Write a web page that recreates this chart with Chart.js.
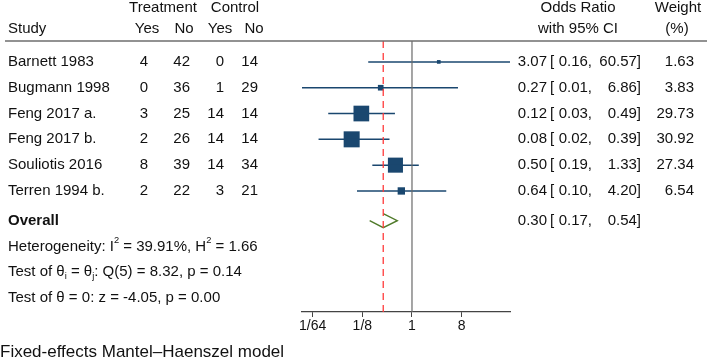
<!DOCTYPE html>
<html><head><meta charset="utf-8">
<script src="https://cdn.jsdelivr.net/npm/chart.js@4.4.0/dist/chart.umd.min.js"></script>
<style>html,body{margin:0;padding:0;background:#fff}#wrap{width:709px;height:360px;position:relative}</style>
</head><body><div id="wrap"><canvas id="c"></canvas></div>
<script>
// ---- data ----
const studies = ['Barnett 1983','Bugmann 1998','Feng 2017 a.','Feng 2017 b.','Souliotis 2016','Terren 1994 b.'];
const treatYes = [4, 0, 3, 2, 8, 2];
const treatNo  = [42, 36, 25, 26, 39, 22];
const ctrlYes  = [0, 1, 14, 14, 14, 3];
const ctrlNo   = [14, 29, 14, 14, 34, 21];
const oddsRatio = [3.07, 0.27, 0.12, 0.08, 0.50, 0.64];
const ciLower   = [0.16, 0.01, 0.03, 0.02, 0.19, 0.10];
const ciUpper   = [60.57, 6.86, 0.49, 0.39, 1.33, 4.20];
const weights   = [1.63, 3.83, 29.73, 30.92, 27.34, 6.54];
const overallOR = 0.30, overallLo = 0.17, overallHi = 0.54;
const tickValues = [1/64, 1/8, 1, 8];
const tickLabels = ['1/64', '1/8', '1', '8'];
const hetI2 = '39.91%', hetH2 = '1.66';
const qStat = '8.32', qDf = 5, qP = '0.14';
const zStat = '-4.05', zP = '0.00';
const footnote = 'Fixed-effects Mantel\u2013Haenszel model';

// ---- layout helpers ----
const FONT = '"Liberation Sans", Arial, Helvetica, sans-serif';
const NAVY = '#1a476f';
const TXT = '#111111';
const overallRow = studies.length + 0.15;
const statRows = [overallRow + 1, overallRow + 2, overallRow + 3];
const yTop = -0.81, yBottom = 9.69;
const dh = 0.27;

Chart.defaults.font.family = FONT;

const datasets = [];
datasets.push({type:'line', data:[{x:1,y:yTop},{x:1,y:yBottom}], borderColor:'#6a6a6a', borderWidth:1.2, pointRadius:0, clip:false});
datasets.push({type:'line', data:[{x:overallOR,y:yTop},{x:overallOR,y:yBottom}], borderColor:'#ff3a3a', borderWidth:1.3, borderDash:[7,5], pointRadius:0, clip:false});
studies.forEach((s,i)=>{
  datasets.push({type:'line', data:[{x:ciLower[i],y:i},{x:ciUpper[i],y:i}], borderColor:NAVY, borderWidth:1.5, pointRadius:0, clip:false});
});
datasets.push({type:'scatter', data:oddsRatio.map((v,i)=>({x:v,y:i})), pointStyle:'rect',
  pointRadius: weights.map(w=>2.88*Math.sqrt(w)/Math.SQRT2), backgroundColor:NAVY, borderColor:NAVY, borderWidth:0, clip:false});
datasets.push({type:'line', data:[{x:overallLo,y:overallRow},{x:overallOR,y:overallRow+dh},{x:overallHi,y:overallRow},{x:overallOR,y:overallRow-dh}],
  borderColor:'#4f7a29', borderWidth:1.4, pointRadius:0, tension:0, clip:false});

function drawRich(ctx, segs, x, y, size) {
  let cx = x;
  segs.forEach(s=>{
    let fs = size, dy = 0;
    if (s.sup) { fs = size*0.62; dy = -size*0.38; }
    if (s.sub) { fs = size*0.62; dy = size*0.28; }
    ctx.font = `${s.bold?'bold ':''}${fs}px ${FONT}`;
    ctx.fillText(s.t, cx, y+dy);
    cx += ctx.measureText(s.t).width;
  });
}

const tablePlugin = {
  id:'table',
  afterDraw(chart){
    const ctx = chart.ctx, ys = chart.scales.y;
    const Y = v=>ys.getPixelForValue(v);
    ctx.save();
    ctx.fillStyle = TXT;
    ctx.textBaseline = 'middle';
    ctx.font = `15px ${FONT}`;
    const T = (t,x,y,al)=>{ctx.textAlign=al||'left'; ctx.fillText(t,x,y);};
    // header
    T('Treatment',163,8,'center'); T('Control',235,8,'center');
    T('Study',8,29); T('Yes',147,29,'center'); T('No',184,29,'center'); T('Yes',220,29,'center'); T('No',254,29,'center');
    T('Odds Ratio',578,8,'center'); T('with 95% CI',578,29,'center');
    T('Weight',678,8,'center'); T('(%)',677,29,'center');
    // rule
    ctx.strokeStyle = '#6e6e6e'; ctx.lineWidth = 1.5;
    ctx.beginPath(); ctx.moveTo(5,41); ctx.lineTo(707,41); ctx.stroke();
    // rows
    studies.forEach((s,i)=>{
      const y = Y(i);
      T(s,8,y);
      T(String(treatYes[i]),148,y,'right'); T(String(treatNo[i]),190,y,'right');
      T(String(ctrlYes[i]),224,y,'right'); T(String(ctrlNo[i]),258,y,'right');
      T(oddsRatio[i].toFixed(2),547,y,'right'); T('[',550,y);
      T(ciLower[i].toFixed(2)+',',592,y,'right'); T(ciUpper[i].toFixed(2)+']',641,y,'right');
      T(weights[i].toFixed(2),694,y,'right');
    });
    const yo = Y(overallRow);
    ctx.font = `bold 15px ${FONT}`; T('Overall',8,yo);
    ctx.font = `15px ${FONT}`;
    T(overallOR.toFixed(2),547,yo,'right'); T('[',550,yo);
    T(overallLo.toFixed(2)+',',592,yo,'right'); T(overallHi.toFixed(2)+']',641,yo,'right');
    ctx.textAlign = 'left';
    drawRich(ctx,[{t:'Heterogeneity: I'},{t:'2',sup:true},{t:' = '+hetI2+', H'},{t:'2',sup:true},{t:' = '+hetH2}],8,Y(statRows[0]),15);
    drawRich(ctx,[{t:'Test of \u03b8'},{t:'i',sub:true},{t:' = \u03b8'},{t:'j',sub:true},{t:': Q('+qDf+') = '+qStat+', p = '+qP}],8,Y(statRows[1]),15);
    drawRich(ctx,[{t:'Test of \u03b8 = 0: z = '+zStat+', p = '+zP}],8,Y(statRows[2]),15);
    ctx.font = `17px ${FONT}`;
    T(footnote,0,352);
    ctx.restore();
  }
};

new Chart(document.getElementById('c'), {
  data:{datasets},
  options:{
    responsive:true, maintainAspectRatio:false, animation:false, events:[],
    layout:{padding:{left:302,right:199,top:41,bottom:24.2}},
    plugins:{legend:{display:false}, tooltip:{enabled:false}},
    scales:{
      x:{type:'logarithmic', position:'bottom', min:Math.min(...ciLower), max:Math.max(...ciUpper),
        afterBuildTicks:s=>{ s.ticks = tickValues.map(v=>({value:v})); },
        ticks:{callback:(v,i)=>tickLabels[i], font:{size:14}, color:TXT, padding:1, autoSkip:false, maxRotation:0, minRotation:0},
        grid:{drawOnChartArea:false, drawTicks:true, tickLength:5, color:'#444', lineWidth:1},
        border:{display:true, color:'#444', width:1.2}},
      y:{type:'linear', reverse:true, min:yTop, max:yBottom, display:false}
    }
  },
  plugins:[tablePlugin]
});
</script></body></html>
